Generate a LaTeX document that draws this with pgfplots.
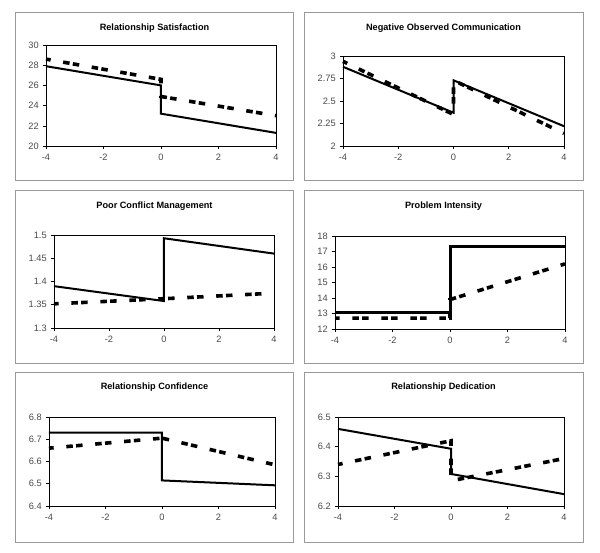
\documentclass[border=0pt]{standalone}
\usepackage{fontspec}
\setmainfont{Liberation Sans}
\usepackage{pgfplots}
\pgfplotsset{compat=1.18}
\definecolor{frame}{HTML}{9A9A9A}
\definecolor{lab}{HTML}{4A4A4A}
\pgfplotsset{
  panel/.style={
    scale only axis, anchor=south west,
    xmin=-4, xmax=4, xtick={-4,-2,0,2,4},
    tick align=outside, xtick pos=lower, ytick pos=left,
    major tick length=3bp,
    tick style={black, line width=0.6bp},
    axis line style={black, line width=0.8bp},
    tick label style={font=\fontsize{9.3}{10}\selectfont, text=lab},
    xticklabel style={yshift=-1.5bp},
    yticklabel style={xshift=-0.8bp},
    /pgf/number format/assume math mode=true,
    scaled ticks=false, clip=false,
  },
  sol/.style={black, line width=2bp, no marks},
  dsh/.style={black, line width=3.6bp, no marks,
    dash pattern=on 6.5bp off 3.3bp on 6.5bp off 12.7bp, dash phase=11.6bp},
}
\tikzset{ttl/.style={font=\bfseries\fontsize{9.2}{11}\selectfont}}
\begin{document}
\begin{tikzpicture}
\path (0,0) rectangle (600bp,-553bp);
% outer frames
\foreach \yt/\yb in {12.7/180, 190.7/363, 372.7/542}{
  \draw[frame, line width=0.8bp] (15bp,-\yt bp) rectangle (293.5bp,-\yb bp);
  \draw[frame, line width=0.8bp] (304bp,-\yt bp) rectangle (583bp,-\yb bp);
}
% titles
\node[ttl] at (154.5bp,-28bp) {Relationship Satisfaction};
\node[ttl] at (443.5bp,-28bp) {Negative Observed Communication};
\node[ttl] at (154.5bp,-206bp) {Poor Conflict Management};
\node[ttl] at (443.5bp,-206bp) {Problem Intensity};
\node[ttl] at (154.5bp,-387.3bp) {Relationship Confidence};
\node[ttl] at (443.5bp,-387bp) {Relationship Dedication};

% Relationship Satisfaction
\begin{axis}[panel, at={(46bp,-146bp)}, width=230bp, height=101bp,
  ymin=20, ymax=30, ytick={20,22,24,26,28,30}]
  \addplot[sol] coordinates {(-4,27.9) (0,26.0) (0,23.2) (4,21.3)};
  \addplot[dsh] coordinates {(-4,28.6) (0,26.6) (0,24.9) (4,23.0)};
\end{axis}

% Negative Observed Communication
\begin{axis}[panel, at={(343bp,-146bp)}, width=221bp, height=90bp,
  ymin=2, ymax=3, ytick={2,2.25,2.5,2.75,3},
  yticklabels={2,2.25,2.5,2.75,3}]
  \addplot[sol] coordinates {(-4,2.88) (0,2.37) (0,2.73) (4,2.22)};
  \addplot[dsh] coordinates {(-4,2.94) (0,2.35) (0,2.73) (4,2.14)};
\end{axis}

% Poor Conflict Management
\begin{axis}[panel, at={(54bp,-328bp)}, width=220bp, height=93bp,
  ymin=1.3, ymax=1.5, ytick={1.3,1.35,1.4,1.45,1.5},
  yticklabels={1.3,1.35,1.4,1.45,1.5}]
  \addplot[sol] coordinates {(-4,1.390) (0,1.358) (0,1.493) (4,1.460)};
  \addplot[dsh] coordinates {(-4,1.352) (0,1.363) (4,1.375)};
\end{axis}

% Problem Intensity
\begin{axis}[panel, at={(335bp,-329bp)}, width=230bp, height=93bp,
  ymin=12, ymax=18, ytick={12,13,14,15,16,17,18}]
  \addplot[sol, line width=3bp] coordinates {(-4,13.05) (0,13.05) (0,17.3) (4,17.3)};
  \addplot[dsh] coordinates {(-4,12.7) (0,12.7) (0,13.9) (4,16.2)};
\end{axis}

% Relationship Confidence
\begin{axis}[panel, at={(49bp,-506bp)}, width=226bp, height=89bp,
  ymin=6.4, ymax=6.8, ytick={6.4,6.5,6.6,6.7,6.8},
  yticklabels={6.4,6.5,6.6,6.7,6.8}]
  \addplot[sol] coordinates {(-4,6.730) (0,6.730) (0,6.515) (4,6.493)};
  \addplot[dsh] coordinates {(-4,6.660) (0,6.705) (4,6.585)};
\end{axis}

% Relationship Dedication
\begin{axis}[panel, at={(338bp,-506bp)}, width=226bp, height=89bp,
  ymin=6.2, ymax=6.5, ytick={6.2,6.3,6.4,6.5},
  yticklabels={6.2,6.3,6.4,6.5}]
  \addplot[sol] coordinates {(-4,6.460) (0,6.393) (0,6.308) (4,6.240)};
  \addplot[dsh] coordinates {(-4,6.340) (0,6.420) (0,6.285) (4,6.360)};
\end{axis}
\end{tikzpicture}
\end{document}
